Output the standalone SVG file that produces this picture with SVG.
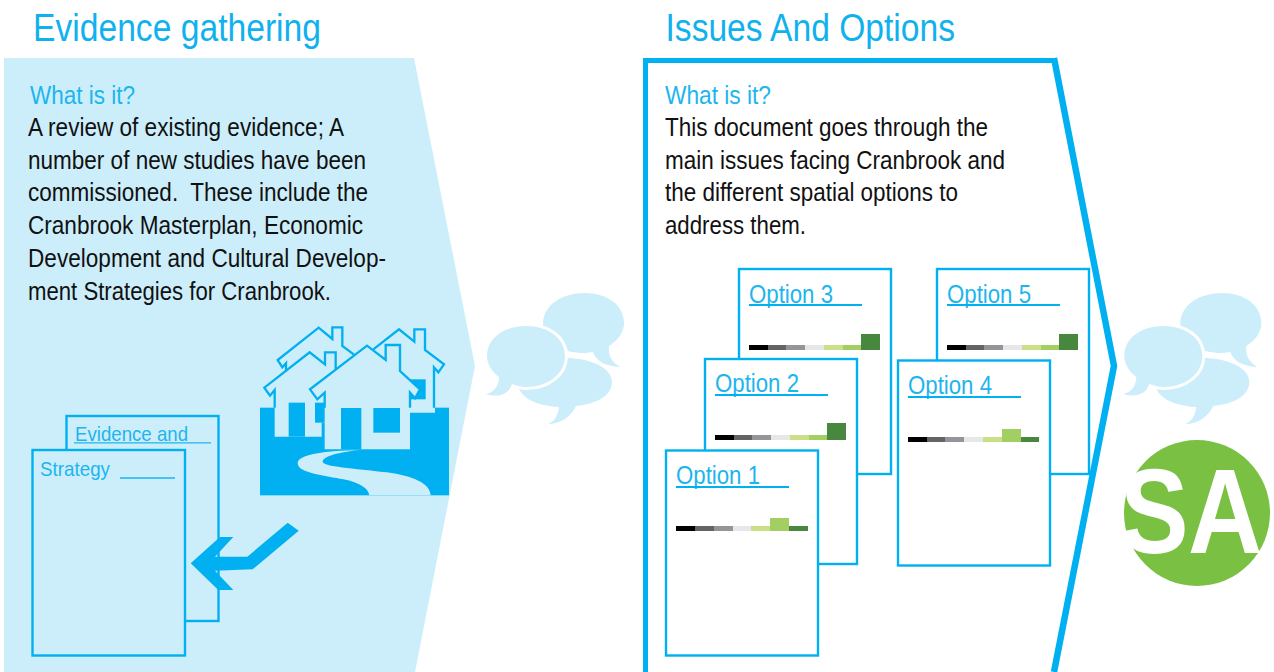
<svg xmlns="http://www.w3.org/2000/svg" width="1274" height="672" viewBox="0 0 1274 672">
<style>
text{font-family:"Liberation Sans",Arial,sans-serif;white-space:pre}
.h{font-size:38px;fill:#0FB1EE}
.q{font-size:26px;fill:#1DB5EE}
.b{font-size:25.5px;fill:#111}
.o{font-size:26px;fill:#1DB5EE}
.e{font-size:21px;fill:#1DB5EE}
.doc{stroke:#00B0F0;stroke-width:2.4;fill:#fff}
.docl{stroke:#00B0F0;stroke-width:2.4;fill:#CCEEFB}
.u{stroke:#00B0F0;stroke-width:2;fill:none}
.u1{stroke:#1DB5EE;stroke-width:1.3;fill:none}
.roof{fill:none;stroke:#00B0F0;stroke-width:7}
.lt{fill:#CCEEFB}
.dk{fill:#00B0F0}
.c1{fill:#000}.c2{fill:#636466}.c3{fill:#939598}.c4{fill:#E6E7E8}.c5{fill:#CBDF89}.c6{fill:#A3CF62}.c7{fill:#47873E}
</style>
<defs>
<g id="bubbles">
<path class="lt" d="M585 293C562 293 543 305 543 324C543 343 562 353 585 353C588 353 590 352 593 352C596 360 603 366 620 367C612 362 608 356 609 346C617 341 624 333 624 323C624 305 607 293 585 293Z"/>
<path class="lt" d="M565 358C539 358 518 369 518 383C518 397 536 406 559 407C558 415 555 421 548 424C560 424 571 417 576 406C596 404 612 396 612 382C612 368 591 358 565 358Z"/>
<path class="lt" stroke="#fff" stroke-width="6" paint-order="stroke" d="M526 326C504 326 487 338 487 356C487 363 491 371 499 377C499 385 495 392 486 394C499 398 509 394 512 384C516 385 521 387 526 387C548 387 565 374 565 356C565 338 548 326 526 326Z"/>
</g>
</defs>
<rect width="1274" height="672" fill="#fff"/>

<g id="panel-evidence">
<polygon class="lt" points="4,58 414,58 475,366 415,672 4,672"/>
<text class="h" x="33" y="41" textLength="288" lengthAdjust="spacingAndGlyphs">Evidence gathering</text>
<text class="q" x="30" y="104" textLength="105" lengthAdjust="spacingAndGlyphs">What is it?</text>
<text class="b" x="28" y="136" textLength="316" lengthAdjust="spacingAndGlyphs">A review of existing evidence; A</text>
<text class="b" x="28" y="169" textLength="338" lengthAdjust="spacingAndGlyphs">number of new studies have been</text>
<text class="b" x="28" y="201" textLength="340" lengthAdjust="spacingAndGlyphs">commissioned.  These include the</text>
<text class="b" x="28" y="234" textLength="335" lengthAdjust="spacingAndGlyphs">Cranbrook Masterplan, Economic</text>
<text class="b" x="28" y="267" textLength="358" lengthAdjust="spacingAndGlyphs">Development and Cultural Develop-</text>
<text class="b" x="28" y="300" textLength="303" lengthAdjust="spacingAndGlyphs">ment Strategies for Cranbrook.</text>
</g>

<g id="houses" transform="translate(180 310) scale(.33333)">
<rect class="dk" x="240" y="293" width="567" height="263"/>
<polygon class="lt" points="293,150 416,53 457,87 457,52 487,52 487,108 530,140 400,260 320,190 320,160 307,172"/>
<polygon class="lt" points="580,118 657,58 703,95 703,58 735,58 735,120 792,163 775,187 762,172 762,293 765,293 765,308 650,308 650,150"/>
<rect class="dk" x="690" y="208" width="47" height="60"/>
<polygon class="lt" points="253,233 389,127 435,163 435,127 467,127 467,178 470,380 284,380 284,240 270,257"/>
<rect class="dk" x="326" y="278" width="49" height="102"/>
<rect class="dk" x="405" y="278" width="30" height="60"/>
<polygon class="dk" points="425,338 435,338 435,400 425,400"/>
<polyline class="roof" points="318,180 318,160 307,172 293,150 416,53 457,87 457,52 487,52 487,108 522,134"/>
<polyline class="roof" points="580,118 657,58 703,95 703,58 735,58 735,120 792,163 775,187 762,172 762,293"/>
<polyline class="roof" points="467,178 467,127 435,127 435,163 389,127 253,233 270,257 284,240 284,293"/>
<polygon class="lt" points="390,238 561,107 617,150 617,105 660,105 660,183 720,238 705,265 690,248 690,418 434,418 434,248 412,268"/>
<polyline class="roof" points="434,293 434,248 412,268 390,238 561,107 617,150 617,105 660,105 660,183 720,238 705,265 690,248 690,293"/>
<rect class="dk" x="483" y="294" width="61" height="124"/>
<rect class="dk" x="580" y="294" width="80" height="74"/>
<path class="lt" d="M540 420C440 422 353 432 353 460C353 490 440 498 490 508C540 518 565 535 568 556L752 556C750 520 700 498 620 487C520 475 430 470 428 455C428 435 500 424 540 420Z"/>
</g>

<g id="doc-evidence">
<rect class="docl" x="66.500" y="416" width="152" height="205"/>
<text class="e" x="75" y="441" textLength="113" lengthAdjust="spacingAndGlyphs">Evidence and</text>
<line class="u1" x1="74" y1="442.800" x2="211" y2="442.800"/>
</g>
<g id="doc-strategy">
<rect class="docl" x="32.500" y="450" width="152.500" height="205.500"/>
<text class="e" x="40" y="476" textLength="70" lengthAdjust="spacingAndGlyphs">Strategy</text>
<line class="u1" x1="120" y1="478" x2="175" y2="478"/>
</g>

<g id="connectors">
<polygon class="dk" points="190.700,563.300 220,537 233.300,537 215,556.700 247.300,556.700 287.700,522.700 298.700,530.700 252.700,569.300 215,570.700 233.300,590 218.300,590"/>
</g>

<g id="bubbles-1"><use href="#bubbles"/></g>

<g id="panel-issues">
<polyline points="645.500,672 645.500,60.500 1054,60.500" fill="none" stroke="#00B0F0" stroke-width="5"/>
<polyline points="1054,58 1114,366 1054,672" fill="none" stroke="#00B0F0" stroke-width="6.500"/>
<text class="h" x="665.500" y="41" textLength="289.500" lengthAdjust="spacingAndGlyphs">Issues And Options</text>
<text class="q" x="665" y="104" textLength="106" lengthAdjust="spacingAndGlyphs">What is it?</text>
<text class="b" x="665" y="136" textLength="323" lengthAdjust="spacingAndGlyphs">This document goes through the</text>
<text class="b" x="665" y="169" textLength="340" lengthAdjust="spacingAndGlyphs">main issues facing Cranbrook and</text>
<text class="b" x="665" y="201" textLength="293" lengthAdjust="spacingAndGlyphs">the different spatial options to</text>
<text class="b" x="665" y="234" textLength="141" lengthAdjust="spacingAndGlyphs">address them.</text>
</g>

<g id="option-3">
<rect class="doc" x="739" y="269" width="152" height="205"/>
<text class="o" x="749" y="303" textLength="84" lengthAdjust="spacingAndGlyphs">Option 3</text>
<line class="u" x1="749" y1="305" x2="862" y2="305"/>
<rect class="c1" x="749" y="345" width="19" height="5"/><rect class="c2" x="768" y="345" width="18" height="5"/><rect class="c3" x="786" y="345" width="19" height="5"/><rect class="c4" x="805" y="345" width="19" height="5"/><rect class="c5" x="824" y="345" width="19" height="5"/><rect class="c6" x="843" y="345" width="18" height="5"/><rect class="c7" x="861" y="334" width="19" height="16"/>
</g>
<g id="option-5">
<rect class="doc" x="937" y="269" width="152" height="205"/>
<text class="o" x="947" y="303" textLength="84" lengthAdjust="spacingAndGlyphs">Option 5</text>
<line class="u" x1="947" y1="305" x2="1060" y2="305"/>
<rect class="c1" x="947" y="345" width="19" height="5"/><rect class="c2" x="966" y="345" width="18" height="5"/><rect class="c3" x="984" y="345" width="19" height="5"/><rect class="c4" x="1003" y="345" width="19" height="5"/><rect class="c5" x="1022" y="345" width="19" height="5"/><rect class="c6" x="1041" y="345" width="18" height="5"/><rect class="c7" x="1059" y="334" width="19" height="16"/>
</g>
<g id="option-2">
<rect class="doc" x="705" y="359" width="152" height="205"/>
<text class="o" x="715" y="392" textLength="84" lengthAdjust="spacingAndGlyphs">Option 2</text>
<line class="u" x1="715" y1="395" x2="828" y2="395"/>
<rect class="c1" x="715" y="435" width="19" height="5"/><rect class="c2" x="734" y="435" width="18" height="5"/><rect class="c3" x="752" y="435" width="19" height="5"/><rect class="c4" x="771" y="435" width="19" height="5"/><rect class="c5" x="790" y="435" width="19" height="5"/><rect class="c6" x="809" y="435" width="18" height="5"/><rect class="c7" x="827" y="423" width="19" height="17"/>
</g>
<g id="option-4">
<rect class="doc" x="898" y="360.500" width="152" height="205"/>
<text class="o" x="908" y="394" textLength="84" lengthAdjust="spacingAndGlyphs">Option 4</text>
<line class="u" x1="908" y1="397" x2="1021" y2="397"/>
<rect class="c1" x="908" y="437" width="19" height="5"/><rect class="c2" x="927" y="437" width="18" height="5"/><rect class="c3" x="945" y="437" width="19" height="5"/><rect class="c4" x="964" y="437" width="19" height="5"/><rect class="c5" x="983" y="437" width="19" height="5"/><rect class="c6" x="1002" y="429" width="19" height="13"/><rect class="c7" x="1021" y="437" width="18" height="5"/>
</g>
<g id="option-1">
<rect class="doc" x="666" y="450.500" width="152" height="205"/>
<text class="o" x="676" y="484" textLength="84" lengthAdjust="spacingAndGlyphs">Option 1</text>
<line class="u" x1="676" y1="487" x2="789" y2="487"/>
<rect class="c1" x="676" y="526" width="19" height="5"/><rect class="c2" x="695" y="526" width="19" height="5"/><rect class="c3" x="714" y="526" width="19" height="5"/><rect class="c4" x="733" y="526" width="18" height="5"/><rect class="c5" x="751" y="526" width="19" height="5"/><rect class="c6" x="770" y="518" width="19" height="13"/><rect class="c7" x="789" y="526" width="19" height="5"/>
</g>

<g id="bubbles-2"><use href="#bubbles" x="637.300"/></g>

<g id="sa-badge">
<circle cx="1197" cy="513" r="73" fill="#7AC143"/>
<text transform="translate(1120 553) scale(.85 1)" font-size="121" font-weight="700" fill="#fff">S<tspan x="80">A</tspan></text>
</g>
</svg>
